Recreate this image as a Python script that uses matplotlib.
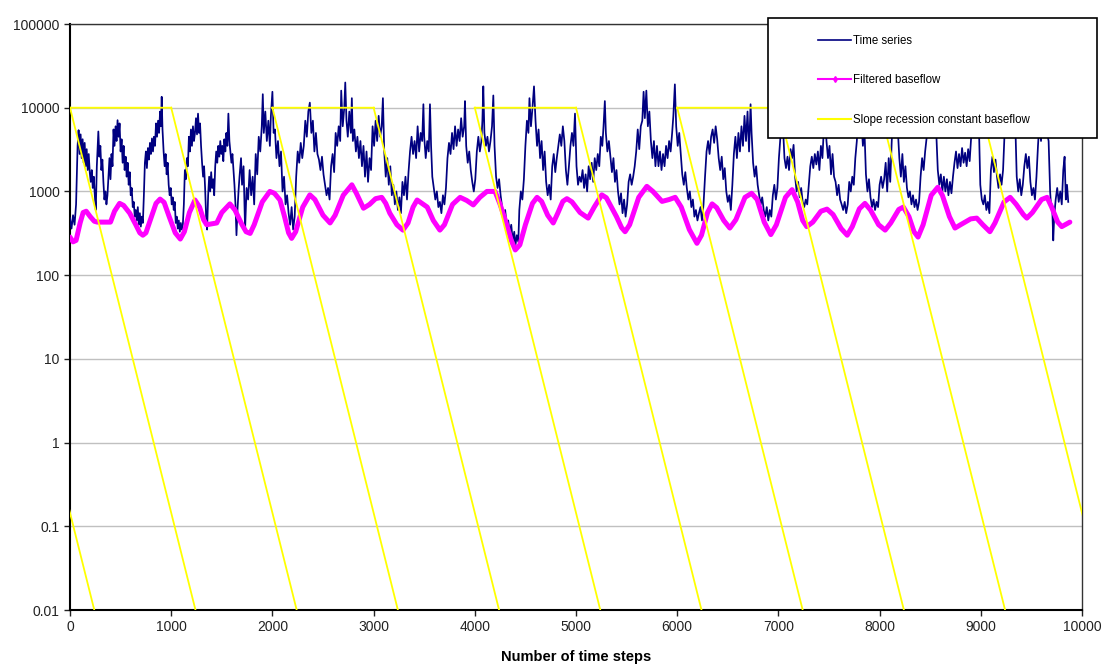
import matplotlib
matplotlib.use('Agg')
import numpy as np
import matplotlib.pyplot as plt
from matplotlib.patches import Rectangle
from matplotlib.lines import Line2D

plt.rcParams['font.family'] = ['Liberation Sans', 'DejaVu Sans']

# time series as (time step, value)
series_points = [
    (0, 480), (15, 360), (30, 520), (45, 400), (60, 700), (75, 3500), (85, 5400), (95, 2800),
    (105, 4800), (115, 2500), (125, 4200), (135, 2200), (145, 3800), (155, 2000), (165, 3200),
    (175, 1800), (185, 2800), (195, 1700), (205, 1300), (215, 1800), (225, 1100), (235, 1500),
    (245, 900), (255, 600), (265, 2000), (280, 5200), (290, 2600), (300, 3500), (310, 1800),
    (320, 2400), (330, 1300), (340, 800), (350, 1000), (360, 700), (370, 900), (380, 1500),
    (390, 2500), (400, 1400), (410, 2800), (420, 2000), (430, 5500), (440, 3500), (450, 6000),
    (460, 4000), (470, 7100), (480, 4500), (490, 6500), (500, 3000), (510, 4200), (520, 2200),
    (530, 3500), (540, 1800), (550, 2600), (560, 1500), (570, 2200), (580, 1200), (590, 1700),
    (600, 900), (610, 1100), (620, 650), (630, 750), (640, 500), (650, 600), (660, 450),
    (670, 650), (680, 400), (690, 550), (700, 380), (710, 500), (720, 420), (730, 900),
    (740, 2200), (750, 3000), (760, 1900), (770, 3300), (780, 2400), (790, 3800), (800, 2800),
    (810, 4300), (820, 3000), (830, 4500), (840, 3500), (850, 6500), (860, 4500), (870, 7000),
    (880, 5000), (890, 9000), (898, 6000), (906, 13500), (914, 5500), (925, 3000), (935, 2000),
    (945, 2800), (955, 1600), (965, 2200), (975, 1200), (985, 900), (995, 1100), (1005, 700),
    (1015, 850), (1025, 600), (1035, 750), (1045, 420), (1055, 500), (1065, 360), (1075, 450),
    (1085, 330), (1095, 420), (1105, 350), (1115, 400), (1125, 700), (1135, 1800), (1145, 1400),
    (1155, 2500), (1165, 2000), (1175, 4500), (1185, 3000), (1195, 5500), (1205, 3500),
    (1215, 6000), (1225, 4000), (1235, 5000), (1245, 7500), (1255, 4800), (1265, 8500),
    (1275, 5000), (1285, 6500), (1295, 3500), (1305, 2200), (1315, 1500), (1325, 2000),
    (1335, 1100), (1345, 500), (1355, 350), (1365, 900), (1375, 1500), (1385, 1000),
    (1395, 1700), (1405, 1100), (1415, 1400), (1425, 900), (1435, 2000), (1445, 3000),
    (1455, 2200), (1465, 3500), (1475, 2600), (1485, 4000), (1495, 2800), (1505, 3500),
    (1515, 2300), (1525, 4200), (1535, 3000), (1545, 5000), (1555, 3500), (1565, 8500),
    (1575, 4000), (1585, 3000), (1595, 2200), (1605, 2800), (1615, 1800), (1625, 1200),
    (1635, 700), (1645, 300), (1655, 600), (1665, 1000), (1675, 1500),
    (1690, 2500), (1700, 1200), (1715, 2000), (1730, 350), (1745, 1100), (1760, 800),
    (1775, 1800), (1790, 900), (1805, 1500), (1820, 700), (1835, 2800), (1850, 1600),
    (1865, 4500), (1880, 3000), (1895, 6000), (1905, 14500), (1915, 5000), (1930, 9000),
    (1945, 4000), (1960, 7000), (1975, 3500), (1985, 8000), (2000, 15500), (2012, 5000),
    (2025, 5500), (2040, 2500), (2055, 4000), (2070, 2000), (2085, 3000), (2100, 1000),
    (2115, 1500), (2130, 700), (2145, 900), (2160, 550), (2175, 400), (2190, 650), (2205, 350),
    (2220, 500), (2235, 1500), (2250, 3000), (2265, 2200), (2280, 3800), (2295, 2500),
    (2310, 3500), (2325, 7000), (2340, 4500), (2355, 9000), (2370, 11500), (2385, 5000),
    (2400, 7000), (2415, 3000), (2430, 5000), (2445, 2800), (2460, 2400), (2475, 1800),
    (2490, 2600), (2505, 1600), (2520, 1200), (2535, 900), (2550, 1100), (2565, 800),
    (2580, 2000), (2595, 2800), (2610, 1700), (2625, 5000), (2640, 3500), (2655, 6000),
    (2670, 4000), (2680, 16000), (2695, 6000), (2710, 10000), (2720, 20000), (2732, 7000),
    (2745, 4500), (2760, 9000), (2775, 5000), (2785, 13000), (2795, 4000), (2810, 5500),
    (2825, 3000), (2840, 4500), (2855, 2500), (2870, 4000), (2885, 2000), (2900, 3500),
    (2915, 1500), (2930, 3000), (2945, 1300), (2960, 2500), (2975, 1800), (2990, 6000),
    (3005, 3500), (3020, 7000), (3035, 4000), (3050, 8000), (3065, 4500), (3080, 6000),
    (3092, 13000), (3105, 3000), (3120, 1500), (3135, 2500), (3150, 1200), (3165, 2000),
    (3180, 900), (3195, 1200), (3210, 700), (3225, 1000), (3240, 600), (3255, 850), (3270, 550),
    (3285, 1300), (3300, 900), (3315, 1500), (3330, 800), (3345, 1700),
    (3360, 3000), (3375, 4500), (3390, 2800), (3405, 4000), (3420, 2500), (3435, 6000),
    (3450, 3000), (3465, 5000), (3480, 4000), (3492, 11000), (3500, 4500), (3515, 2500),
    (3530, 4000), (3545, 3000), (3557, 11000), (3568, 3500), (3580, 1500), (3595, 1100),
    (3610, 800), (3625, 1000), (3640, 650), (3655, 750), (3670, 550), (3685, 900), (3700, 700),
    (3715, 1100), (3730, 2500), (3745, 3800), (3760, 2800), (3775, 5000), (3790, 3200),
    (3805, 6000), (3820, 3500), (3835, 5500), (3850, 4000), (3865, 7500), (3880, 4500),
    (3895, 6000), (3903, 12000), (3915, 3500), (3930, 2200), (3945, 3000), (3960, 1800),
    (3975, 1300), (3990, 1000), (4005, 1400), (4020, 3000), (4035, 4500), (4050, 3000),
    (4065, 4000), (4075, 7000), (4084, 18000), (4095, 5000), (4110, 3500), (4125, 4500),
    (4140, 3000), (4155, 4000), (4170, 6000), (4183, 14000), (4195, 3500), (4210, 1500),
    (4225, 1100), (4240, 1400), (4255, 900), (4270, 650), (4285, 500), (4300, 600), (4315, 400),
    (4330, 450), (4345, 320), (4360, 400), (4375, 260), (4390, 330), (4400, 220), (4415, 300),
    (4430, 250), (4440, 600), (4455, 1000), (4470, 800), (4485, 1400), (4500, 3500),
    (4515, 7000), (4530, 5000), (4540, 13000), (4555, 6000), (4570, 10000), (4585, 18000),
    (4600, 7000), (4615, 3500), (4630, 5500), (4645, 2500), (4660, 4000), (4675, 1800),
    (4690, 3000), (4705, 1300), (4720, 900), (4735, 1200), (4750, 800), (4765, 2000),
    (4780, 2800), (4795, 1700), (4810, 2500), (4825, 3500), (4840, 4800), (4855, 3500),
    (4870, 6000), (4885, 4000), (4900, 1800), (4915, 1200), (4930, 2000), (4945, 3500),
    (4960, 5000), (4975, 3500), (4990, 8500), (5005, 2000), (5020, 1200), (5035, 1500),
    (5050, 1300), (5065, 1800), (5080, 1100), (5095, 1600), (5110, 1000), (5125, 2000),
    (5140, 1400), (5155, 2200), (5170, 1300), (5185, 2500), (5200, 1800), (5215, 2800),
    (5230, 2000), (5245, 4500), (5260, 3500), (5272, 6000), (5285, 12000), (5295, 5000),
    (5310, 3000), (5325, 4000), (5340, 2600), (5355, 1700), (5370, 2500), (5385, 1300),
    (5400, 1800), (5415, 1000), (5430, 700), (5445, 950), (5460, 550), (5475, 800), (5490, 500),
    (5505, 700), (5520, 1300), (5535, 1600), (5550, 1200), (5565, 1500), (5580, 2000),
    (5595, 3000), (5610, 5500), (5625, 3200), (5640, 6000), (5655, 7000), (5668, 15500),
    (5680, 7500), (5695, 16000), (5710, 6000), (5725, 9000), (5740, 4000), (5755, 2500),
    (5770, 4000), (5785, 2000), (5800, 3500), (5815, 2000), (5830, 3000), (5845, 1800),
    (5860, 2800), (5875, 2000), (5890, 3500), (5905, 2500), (5920, 4000), (5935, 3000),
    (5950, 5000), (5962, 8000), (5977, 19000), (5990, 6000), (6005, 3500), (6020, 5000),
    (6035, 2800), (6050, 1600), (6065, 1200), (6080, 1700), (6095, 1100), (6110, 800),
    (6125, 1000), (6140, 650), (6155, 800), (6170, 500), (6185, 600), (6200, 450), (6215, 550),
    (6230, 650), (6245, 450), (6260, 700), (6275, 1500), (6290, 3000), (6305, 4000),
    (6320, 2800), (6335, 4500), (6350, 5500), (6365, 3800), (6380, 6000), (6395, 4200),
    (6410, 2500), (6425, 1800), (6440, 2600), (6455, 1400), (6470, 1900), (6485, 1000),
    (6500, 750), (6515, 900), (6530, 600), (6545, 1200), (6560, 2800), (6575, 4500),
    (6590, 2500), (6605, 5000), (6620, 3000), (6635, 6000), (6650, 3500), (6665, 8000),
    (6680, 4000), (6695, 9000), (6710, 3000),
    (6725, 11000), (6735, 5000), (6750, 2200), (6765, 1500), (6780, 2000), (6795, 1200),
    (6810, 900), (6825, 700), (6840, 850), (6855, 600), (6870, 500), (6885, 650), (6900, 450),
    (6915, 600), (6930, 500), (6945, 900), (6960, 1200), (6975, 800), (6990, 1100),
    (7005, 2500), (7020, 4500), (7035, 8000), (7048, 5000), (7060, 2500), (7075, 1900),
    (7090, 2600), (7105, 1800), (7120, 3200), (7135, 2500), (7150, 3600), (7165, 1500),
    (7180, 1000), (7195, 1300), (7210, 850), (7225, 1100), (7240, 750), (7255, 650), (7270, 800),
    (7285, 700), (7300, 1200), (7315, 2000), (7330, 2600), (7345, 1900), (7360, 2800),
    (7375, 2100), (7390, 3000), (7405, 1800), (7420, 3500), (7435, 2500), (7450, 6000),
    (7460, 9000), (7475, 4000), (7490, 2500), (7505, 3500), (7520, 1600), (7535, 2800),
    (7550, 1500), (7565, 1300), (7580, 900), (7595, 1200), (7610, 800), (7625, 700), (7640, 600),
    (7655, 750), (7670, 550), (7685, 700), (7700, 1300), (7715, 1000), (7730, 1500),
    (7745, 1200), (7760, 2500), (7775, 4000), (7790, 9000), (7805, 4500), (7820, 7000),
    (7835, 3500), (7850, 5500), (7865, 1600), (7880, 1000), (7895, 1400), (7910, 850),
    (7925, 650), (7940, 800), (7955, 600), (7970, 750), (7985, 650), (8000, 1200), (8015, 1500),
    (8030, 1100), (8045, 1400), (8060, 2200), (8075, 1000), (8090, 2500), (8105, 1300),
    (8120, 4000), (8135, 9000), (8150, 5000), (8165, 12000), (8180, 5500), (8195, 2500),
    (8210, 1500), (8225, 2800), (8240, 1300), (8255, 2000), (8270, 1100), (8285, 850),
    (8300, 1000), (8315, 700), (8330, 900), (8345, 650), (8360, 800), (8375, 600), (8390, 750),
    (8405, 1500), (8420, 2500), (8435, 1800), (8450, 3000), (8470, 5000), (8485, 10000),
    (8500, 6000), (8515, 14000), (8530, 7000), (8545, 11000), (8560, 5000), (8575, 1800),
    (8590, 1200), (8605, 1600), (8620, 1000), (8635, 1500), (8650, 1000), (8665, 1400),
    (8680, 900), (8695, 1300), (8710, 950), (8725, 1500), (8740, 2200), (8755, 3000),
    (8770, 1900), (8785, 2800), (8800, 2000), (8815, 3300), (8830, 2200), (8845, 2900),
    (8860, 2000), (8875, 3200), (8890, 2300), (8905, 4500), (8920, 8000), (8935, 5000),
    (8950, 11000), (8965, 5500), (8980, 7000), (8995, 1200), (9010, 800), (9025, 700),
    (9040, 900), (9055, 600), (9070, 750), (9085, 550), (9100, 1800), (9115, 2600),
    (9130, 1700), (9145, 2400), (9160, 1500), (9175, 1100), (9190, 1600), (9205, 1200),
    (9220, 1800), (9235, 5000), (9250, 9000), (9265, 5500), (9280, 12000), (9295, 6000),
    (9310, 10000), (9325, 4500), (9340, 7000), (9355, 1500), (9370, 1000), (9385, 1400),
    (9400, 900), (9415, 1200), (9430, 2000), (9445, 2800), (9460, 1900), (9475, 2600),
    (9490, 1300), (9505, 900), (9520, 1100), (9535, 800), (9550, 1500), (9565, 3500),
    (9580, 7000), (9595, 4000), (9610, 9000), (9625, 5000), (9640, 12000), (9655, 5000),
    (9670, 4000), (9685, 1000), (9695, 650), (9705, 700), (9716, 260), (9725, 500), (9740, 800),
    (9755, 1100), (9770, 750), (9785, 1000), (9800, 700), (9815, 1800), (9828, 2600),
    (9840, 800), (9852, 1200), (9864, 750),
]
ts_t = [p[0] for p in series_points]
ts_v = [p[1] for p in series_points]

# filtered baseflow as (time step, value)
baseflow_points = [
    (0, 285), (30, 250), (60, 260), (100, 420), (130, 560), (160, 580), (200, 500),
    (240, 440), (270, 430), (400, 430), (440, 580), (490, 720), (530, 680), (590, 550),
    (650, 400), (690, 320), (720, 300), (750, 320), (800, 480), (850, 720), (890, 810),
    (930, 740), (980, 500), (1040, 320), (1090, 270), (1130, 330), (1180, 560), (1235, 790),
    (1280, 650), (1320, 460), (1350, 400), (1450, 420), (1500, 560), (1580, 710), (1630, 600),
    (1700, 400), (1740, 330), (1780, 315), (1820, 400), (1900, 750), (1975, 1000),
    (2020, 950), (2075, 790), (2120, 500), (2160, 320), (2190, 275), (2230, 330), (2300, 650),
    (2370, 910), (2420, 800), (2500, 520), (2570, 420), (2620, 520), (2700, 900),
    (2785, 1200), (2830, 950), (2900, 630), (2960, 700), (3020, 820), (3080, 850),
    (3120, 720), (3160, 550), (3230, 400), (3290, 345), (3340, 420), (3390, 650), (3430, 790),
    (3470, 730), (3530, 650), (3590, 450), (3655, 345), (3700, 400), (3780, 700), (3855, 850),
    (3920, 780), (3985, 690), (4050, 850), (4120, 1000), (4200, 1000), (4250, 700),
    (4300, 460), (4360, 260), (4400, 200), (4445, 230), (4500, 400), (4570, 720), (4615, 850),
    (4660, 760), (4720, 520), (4775, 420), (4820, 550), (4870, 760), (4910, 820), (4960, 750),
    (5040, 560), (5120, 480), (5180, 650), (5255, 910), (5300, 840), (5400, 500), (5450, 370),
    (5485, 330), (5530, 400), (5620, 850), (5700, 1150), (5760, 1000), (5850, 760),
    (5920, 800), (5980, 850), (6040, 650), (6120, 350), (6195, 240), (6240, 300), (6300, 560),
    (6345, 710), (6390, 640), (6460, 450), (6520, 365), (6580, 460), (6670, 850), (6735, 950),
    (6790, 800), (6860, 430), (6925, 305), (6980, 400), (7070, 850), (7135, 1050),
    (7190, 750), (7240, 450), (7280, 380), (7340, 430), (7420, 580), (7480, 615), (7540, 530),
    (7620, 360), (7680, 300), (7730, 380), (7800, 620), (7855, 720), (7910, 600), (7990, 400),
    (8055, 345), (8110, 420), (8190, 610), (8235, 650), (8290, 500), (8340, 330), (8380, 285),
    (8430, 400), (8510, 900), (8575, 1120), (8620, 900), (8690, 500), (8745, 365), (8800, 400),
    (8900, 470), (8960, 480), (9020, 400), (9090, 330), (9140, 420), (9230, 750), (9290, 850),
    (9350, 700), (9420, 530), (9455, 480), (9510, 560), (9600, 800), (9655, 850), (9700, 650),
    (9760, 430), (9800, 380), (9880, 430),
]
bf_t = [p[0] for p in baseflow_points]
bf_v = [p[1] for p in baseflow_points]

# slope recession constant baseflow
rec_start = [-1000, 0, 1000, 2000, 3000, 4000, 5000, 6000, 7000, 8000, 9000]
rec_peak = 10000
rec_floor = 0.01
rec_length = 1240          # steps from peak down to the floor value
plateaus = [(0, 1000), (2000, 3000), (4000, 5000), (6000, 7000), (8000, 9000)]

y_ticks = [0.01, 0.1, 1, 10, 100, 1000, 10000, 100000]
y_labels = ['0.01', '0.1', '1', '10', '100', '1000', '10000', '100000']
x_ticks = list(range(0, 10001, 1000))

rx, ry = [], []
for s in rec_start:
    rx += [s, s + rec_length, np.nan]
    ry += [rec_peak, rec_floor, np.nan]
for a, b in plateaus:
    rx += [a, b, np.nan]
    ry += [rec_peak, rec_peak, np.nan]

fig = plt.figure(figsize=(11.05, 6.7), dpi=100)
ax = fig.add_axes([70 / 1105, 1 - 610 / 670, 1012 / 1105, 586 / 670])

ax.plot(ts_t, ts_v, color='#000080', lw=1.25, zorder=3)
ax.plot(bf_t, bf_v, color='#ff00ff', lw=3.6, solid_joinstyle='round',
        solid_capstyle='round', zorder=4)
ax.plot(rx, ry, color='#ffff00', lw=1.3, zorder=5)

ax.set_yscale('log')
ax.set_ylim(0.01, 100000)
ax.set_xlim(0, 10000)
ax.set_yticks(y_ticks)
ax.set_yticklabels(y_labels)
ax.minorticks_off()
ax.set_xticks(x_ticks)
ax.set_xticklabels([str(v) for v in x_ticks])
ax.tick_params(labelsize=10, colors='#222222', length=4, width=1)
ax.grid(axis='y', color='#c0c0c0', lw=1)
ax.set_axisbelow(True)
for side in ['left', 'bottom']:
    ax.spines[side].set_linewidth(1.5)
for side in ['top', 'right']:
    ax.spines[side].set_linewidth(1.0)
    ax.spines[side].set_color('#333333')
ax.set_xlabel('Number of time steps', fontsize=10.5, fontweight='bold', labelpad=11)

# legend box sticking out over the top right corner
fig.add_artist(Rectangle((768 / 1105, 1 - 138 / 670), 329 / 1105, 120 / 670,
                         transform=fig.transFigure, facecolor='white',
                         edgecolor='black', lw=1.2, zorder=3))
handles = [Line2D([], [], color='#000080', lw=1.2),
           Line2D([], [], color='#ff00ff', lw=1.5, marker='d', markersize=3),
           Line2D([], [], color='#ffff00', lw=1.5)]
labels = ['Time series', 'Filtered baseflow', 'Slope recession constant baseflow']
fig.legend(handles, labels, loc='upper left', bbox_to_anchor=(808 / 1105, 1 - 25 / 670),
           frameon=False, fontsize=8.3, labelspacing=2.35, handlelength=2.8,
           handletextpad=0.2)

fig.savefig('out.png', dpi=100)
